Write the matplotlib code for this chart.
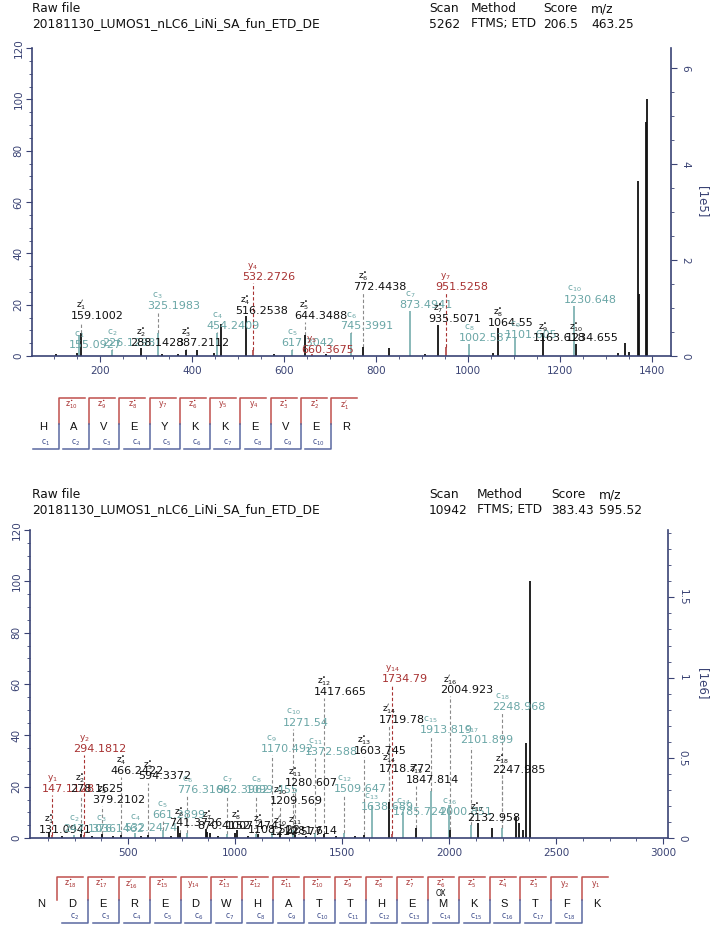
import matplotlib
matplotlib.use("Agg")
import matplotlib.pyplot as plt
from matplotlib.ticker import MultipleLocator, FuncFormatter

W, H = 714, 934
AXIS = "#3a4374"
TEAL = "#6aa6a6"
RED = "#a83232"
BLACK = "#111111"
BR_RED = "#c0504d"
BR_BLUE = "#5a68a0"
C_BLUE = "#3b4a8a"

KIND_COLOR = {"n": BLACK, "z": BLACK, "c": TEAL, "y": RED}

# ---------------- spectrum 1 (scan 5262) ----------------
hdr1_values = ["5262", "FTMS; ETD", "206.5", "463.25"]
s1_scale = 5.35  # base peak, 1e5
s1_peak_mz = [105, 150, 155.09, 159.10, 226.13, 288.14, 325.20, 335, 370, 387.21, 410,
              447, 454.24, 463.3, 516.25, 532.27, 578, 617.30, 644.35, 660.37, 690,
              745.40, 772.44, 828, 873.49, 906, 935.51, 951.53, 1002.54, 1055, 1064.55,
              1101.61, 1163.62, 1230.65, 1234.66, 1325, 1340, 1350, 1369.8, 1372,
              1386, 1389.8]
s1_peak_int = [0.6, 1.2, 8, 9, 2.5, 3, 9, 0.8, 0.6, 2.5, 2.2,
               1, 9, 12.5, 15.5, 2.3, 0.6, 2.5, 8, 0.8, 0.8,
               9, 3.5, 3, 17.5, 0.7, 12, 3.5, 4.5, 1, 11,
               7, 9, 19.5, 4.5, 1.3, 5, 1.5, 68, 24,
               91, 100]
s1_peak_kind = ["n", "n", "c", "z", "c", "z", "c", "n", "n", "z", "n",
                "n", "c", "n", "z", "y", "n", "c", "z", "y", "n",
                "c", "z", "n", "c", "n", "z", "y", "c", "n", "z",
                "c", "z", "c", "z", "n", "n", "n", "n", "n",
                "n", "n"]
# annotations: m/z text, height of the text (%), ion type, index
s1_lab_text = ["155.0927", "159.1002", "226.1298", "288.1428", "325.1983", "387.2112",
               "454.2409", "516.2538", "532.2726", "617.3042", "644.3488", "660.3675",
               "745.3991", "772.4438", "873.4941", "935.5071", "951.5258", "1002.537",
               "1064.55", "1101.605", "1163.618", "1230.648", "1234.655"]
s1_lab_y = [4.3, 15.6, 5, 5, 19.5, 5, 11.7, 17.6, 30.8, 5, 15.6, 2.3,
            11.7, 27, 20, 14.4, 27, 7, 13, 8, 7, 22, 7]
s1_lab_ion = ["c", "z'", "c", "z.", "c", "z.", "c", "z.", "y", "c", "z.", "y",
              "c", "z.", "c", "z.", "y", "c", "z.", "c", "z.", "c", "z."]
s1_lab_num = [1, 1, 2, 2, 3, 3, 4, 4, 4, 5, 5, 5, 6, 6, 7, 7, 7, 8, 8, 9, 9, 10, 10]

s1_seq = "HAVEYKKEVER"
s1_top_ions = ["z.10", "z.9", "z.8", "y7", "z.6", "y5", "y4", "z.3", "z.2", "z'1"]
s1_bot_ions = ["c1", "c2", "c3", "c4", "c5", "c6", "c7", "c8", "c9", "c10"]

# ---------------- spectrum 2 (scan 10942) ----------------
hdr2_values = ["10942", "FTMS; ETD", "383.43", "595.52"]
s2_scale = 1.6  # base peak, 1e6
s2_peak_mz = [131.09, 147.11, 190, 247.10, 278.16, 294.18, 330, 376.15, 379.21, 430,
              466.24, 532.25, 560, 594.34, 661.29, 700, 735, 741.37, 776.32, 865,
              870.42, 883, 920, 962.40, 998, 1007.47, 1060, 1099.46, 1108.52, 1170.49,
              1209.57, 1271.54, 1280.61, 1330, 1372.59, 1417.67, 1470, 1509.65, 1560,
              1603.75, 1638.69, 1718.77, 1734.79, 1785.72, 1847.81, 1913.82, 2000.85,
              2004.92, 2101.90, 2132.96, 2200, 2248.97, 2313, 2327, 2346, 2360, 2378]
s2_peak_int = [2.5, 1, 0.6, 1, 1.5, 1, 0.6, 1, 1.5, 0.6,
               1, 2, 0.8, 1.2, 3, 0.8, 4.5, 2, 2, 3.5,
               2.5, 2, 0.8, 1.5, 2, 3, 0.8, 1.5, 1.5, 2,
               2, 3, 1, 0.8, 2, 1.5, 0.8, 2, 0.8,
               1, 13, 14, 1.5, 10, 4, 18.5, 13,
               3, 5, 6, 4, 4, 8, 6, 3, 37, 100]
s2_peak_kind = ["z", "y", "n", "c", "z", "y", "n", "c", "z", "n",
                "z", "c", "n", "z", "c", "n", "n", "z", "c", "n",
                "z", "n", "n", "c", "n", "z", "n", "c", "z", "c",
                "z", "c", "z", "n", "c", "z", "n", "c", "n",
                "z", "c", "z", "y", "c", "z", "c", "c",
                "z", "c", "z", "n", "c", "n", "n", "n", "n", "n"]
s2_lab_text = ["131.0941", "147.1128", "247.1036", "278.1625", "294.1812", "376.1462",
               "379.2102", "466.2422", "532.2474", "594.3372", "661.2899", "741.3726",
               "776.3168", "870.4152", "962.3962", "1007.474", "1099.455", "1108.522",
               "1170.492", "1209.569", "1210.577", "1271.54", "1280.607", "1281.614",
               "1372.588", "1417.665", "1509.647", "1603.745", "1638.689", "1718.772",
               "1719.78", "1734.79", "1785.724", "1847.814", "1913.819", "2000.851",
               "2004.923", "2101.899", "2132.958", "2247.985", "2248.968"]
s2_lab_y = [3, 19, 3.5, 19, 34.7, 3.5, 14.7, 26, 4, 24, 9, 5.8,
            18.7, 4.7, 18.7, 4.7, 18.8, 3, 34.7, 14.4, 2.4, 45, 21.4, 2.8,
            33.5, 57, 19, 34, 12, 27, 46, 62, 10, 22.6, 42, 10,
            57.6, 38, 7.8, 26.5, 51]
s2_lab_ion = ["z.", "y", "c", "z.", "y", "c", "z.", "z.", "c", "z.", "c", "z.",
              "c", "z.", "c", "z.", "c", "z.", "c", "z.", "z'", "c", "z.", "z'",
              "c", "z.", "c", "z.", "c", "z.", "z'", "y", "c", "z.", "c", "c",
              "z'", "c", "z.", "z.", "c"]
s2_lab_num = [1, 1, 2, 2, 2, 3, 3, 4, 4, 5, 5, 6, 6, 7, 7, 8, 8, 9, 9, 10, 10, 10, 11, 11,
              11, 12, 12, 13, 13, 14, 14, 14, 14, 15, 15, 16, 16, 17, 17, 18, 18]

s2_seq = "NDEREDWHATTHEMKSTFK"
s2_top_ions = ["z.18", "z.17", "z'16", "z.15", "y14", "z.13", "z.12", "z.11", "z.10",
               "z.9", "z.8", "z.7", "z.6", "z.5", "z.4", "z.3", "y2", "y1"]
s2_bot_ions = [None, "c2", "c3", "c4", "c5", "c6", "c7", "c8", "c9", "c10", "c11",
               "c12", "c13", "c14", "c15", "c16", "c17", "c18"]
s2_mod_note = {12: "ox"}


def ion_name(ion, num):
    if ion == "z.":
        return r"z$^{\bullet}_{%d}$" % num
    if ion == "z'":
        return r"z$^{\prime}_{%d}$" % num
    return r"%s$_{%d}$" % (ion, num)


def ion_color(ion):
    return {"c": TEAL, "y": RED}.get(ion, BLACK)


def px_rect(left, top, right, bottom):
    return [left / W, 1 - bottom / H, (right - left) / W, (bottom - top) / H]


def spectrum(rect, xlim, xmajor, rmax, rmajor, rminor, rlabel,
             mz, inten, kind, lab_text, lab_y, lab_ion, lab_num):
    ax = fig.add_axes(rect)
    for k in ["n", "c", "y", "z"]:
        xs = [m for m, kk in zip(mz, kind) if kk == k]
        ys = [i for i, kk in zip(inten, kind) if kk == k]
        ax.vlines(xs, 0, ys, color=KIND_COLOR[k], lw=1.3 if k in "nz" else 1.1, zorder=2)
    peak_h = dict(zip(mz, inten))
    for txt, ly, ion, num in zip(lab_text, lab_y, lab_ion, lab_num):
        m = float(txt)
        col = ion_color(ion)
        # height of the nearest peak
        near = min(mz, key=lambda p: abs(p - m))
        h = peak_h[near] if abs(near - m) < 3 else 0
        if ly - 2.4 > h:
            ax.vlines(m, h, ly - 2.4, color=RED if ion == "y" else "#8a8a8a",
                      lw=0.8, linestyles=(0, (3, 2)), zorder=1)
        ax.annotate(txt, (m, ly), xytext=(-7.5, 0), textcoords="offset points",
                    ha="left", va="center", fontsize=8, color=col, zorder=3)
        ax.annotate(ion_name(ion, num), (m, ly), xytext=(0, 7.5), textcoords="offset points",
                    ha="center", va="center", fontsize=6.5, color=col, zorder=3)
    ax.set_xlim(*xlim)
    ax.set_ylim(0, 120)
    ax.xaxis.set_major_locator(MultipleLocator(xmajor))
    ax.xaxis.set_minor_locator(MultipleLocator(xmajor / 4))
    ax.yaxis.set_major_locator(MultipleLocator(20))
    ax.yaxis.set_minor_locator(MultipleLocator(5))
    for s in ["top", "right"]:
        ax.spines[s].set_visible(False)
    for s in ["left", "bottom"]:
        ax.spines[s].set_color(AXIS)
        ax.spines[s].set_linewidth(1.2)
    ax.tick_params(which="both", colors=AXIS, labelcolor=AXIS, labelsize=7.5, direction="out")
    ax.tick_params(which="major", length=4)
    ax.tick_params(which="minor", length=2.5)
    ax.tick_params(axis="y", labelrotation=90, pad=2)
    for t in ax.get_yticklabels():
        t.set_va("center")

    rx = ax.twinx()
    rx.set_ylim(0, rmax)
    rx.yaxis.set_major_locator(MultipleLocator(rmajor))
    rx.yaxis.set_minor_locator(MultipleLocator(rminor))
    rx.yaxis.set_major_formatter(FuncFormatter(lambda v, p: "%g" % v))
    for s in ["top", "left", "bottom"]:
        rx.spines[s].set_visible(False)
    rx.spines["right"].set_color(AXIS)
    rx.spines["right"].set_linewidth(1.2)
    rx.tick_params(which="both", colors=AXIS, labelcolor=AXIS, labelsize=7.5, direction="out")
    rx.tick_params(which="major", length=4)
    rx.tick_params(which="minor", length=2.5)
    rx.tick_params(axis="y", labelrotation=-90, pad=3)
    for t in rx.get_yticklabels():
        t.set_va("center")
    # unit label to the right of the intensity axis
    pos = ax.get_position()
    fig.text(702 / W, pos.y0 + pos.height / 2, rlabel, rotation=-90, color=AXIS,
             fontsize=8.5, ha="center", va="center")
    return ax


def header(top, values, xs):
    heads = ["Scan", "Method", "Score", "m/z"]
    hf = dict(family="DejaVu Sans", fontsize=8.8, color="#111111", va="center", ha="left")
    fig.text(32 / W, 1 - top / H, "Raw file", **hf)
    fig.text(32 / W, 1 - (top + 15) / H, "20181130_LUMOS1_nLC6_LiNi_SA_fun_ETD_DE", **hf)
    for hd, v, x in zip(heads, values, xs):
        fig.text(x / W, 1 - top / H, hd, **hf)
        fig.text(x / W, 1 - (top + 15) / H, v, **hf)


def sequence(ov, seq, x0, pitch, y_top, height, top_ions, bot_ions, notes):
    y_bot = y_top + height
    y_mid = (y_top + y_bot) / 2
    for i, aa in enumerate(seq):
        ov.text(x0 + i * pitch, y_mid + 4, aa, ha="center", va="center",
                fontsize=8, color="#111111", family="Liberation Sans")
    for b, (ti, bi) in enumerate(zip(top_ions, bot_ions)):
        bx = x0 + (b + 0.5) * pitch + 0.5
        if ti:
            ov.plot([bx, bx, bx + 26], [y_mid, y_top, y_top], color=BR_RED, lw=1.1)
            name = ti.rstrip("0123456789")
            n = int(ti[len(name):])
            ov.text(bx + 13, y_top + 7, ion_name(name, n), ha="center", va="center",
                    fontsize=5.5, color=RED)
        if bi:
            ov.plot([bx, bx, bx - 26], [y_mid, y_bot, y_bot], color=BR_BLUE, lw=1.1)
            ov.text(bx - 13, y_bot - 6, ion_name("c", int(bi[1:])), ha="center",
                    va="center", fontsize=5.5, color=C_BLUE)
    for b, note in notes.items():
        bx = x0 + (b + 0.5) * pitch + 0.5
        ov.text(bx + 13, y_top + 16, note.upper(), ha="center", va="center",
                fontsize=5.5, color="#111111")


fig = plt.figure(figsize=(W / 100, H / 100), dpi=100)

header(9, hdr1_values, [429, 471, 543, 591])
header(495, hdr2_values, [429, 477, 551, 599])

spectrum(px_rect(32, 48, 671, 356), (52, 1441), 200, 1.2 * s1_scale, 2, 0.5, "[1e5]",
         s1_peak_mz, s1_peak_int, s1_peak_kind,
         s1_lab_text, s1_lab_y, s1_lab_ion, s1_lab_num)
spectrum(px_rect(30, 530, 668, 838), (42, 3023), 500, 1.2 * s2_scale, 0.5, 0.1, "[1e6]",
         s2_peak_mz, s2_peak_int, s2_peak_kind,
         s2_lab_text, s2_lab_y, s2_lab_ion, s2_lab_num)

ov = fig.add_axes([0, 0, 1, 1])
ov.set_xlim(0, W)
ov.set_ylim(H, 0)
ov.axis("off")
sequence(ov, s1_seq, 43, 30.3, 398, 51, s1_top_ions, s1_bot_ions, {})
sequence(ov, s2_seq, 41, 30.9, 877, 46, s2_top_ions, s2_bot_ions, s2_mod_note)

fig.savefig("out.png", dpi=100)
